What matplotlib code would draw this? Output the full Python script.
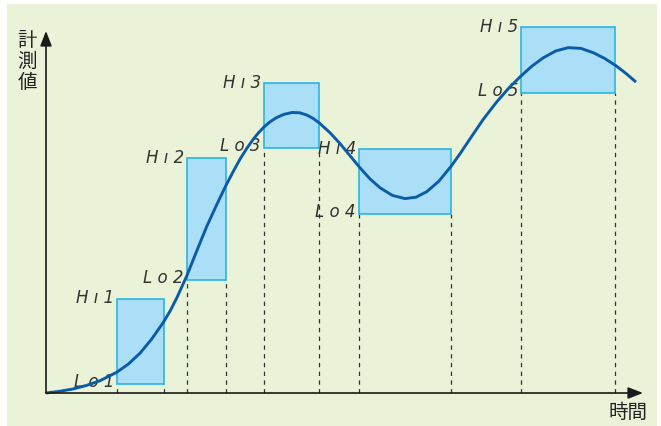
import numpy as np
import matplotlib.pyplot as plt
from matplotlib.patches import Rectangle

# measured curve (time, value)
curve_t = [0, 2.2, 4.5, 6.8, 9.05, 11.84, 13.8, 15.75, 17.7, 19.65, 20.8, 21.89, 23.57, 25.24,
           26.92, 28.59, 30.1, 31.3, 32.5, 33.6, 34.72, 35.6, 36.52, 37.6, 38.64, 39.9, 41.26,
           42.5, 43.67, 44.7, 45.78, 47.57, 49.25, 51.0, 52.6, 54.3, 55.95, 58.0, 60.13, 62.0,
           63.77, 65.8, 67.84, 69.4, 71.02, 73.2, 75.49, 77.5, 79.51, 81.4, 83.3, 85.4, 87.49,
           89.6, 91.68, 93.6, 95.48, 97.2, 98.83]
curve_v = [0, 0.45, 1.1, 2.1, 3.4, 5.72, 8.0, 11.0, 14.9, 19.5, 22.7, 26.2, 32.3, 39.2,
           46.0, 52.0, 57.2, 61.0, 64.6, 67.5, 70.1, 71.9, 73.5, 75.0, 76.1, 77.0, 77.5,
           77.4, 76.8, 75.9, 74.6, 71.9, 68.9, 65.4, 62.2, 59.1, 56.7, 54.6, 53.7, 54.1,
           55.6, 58.5, 62.6, 66.2, 70.2, 75.5, 80.4, 84.2, 87.5, 90.3, 92.6, 94.5, 95.4,
           95.2, 94.0, 92.4, 90.4, 88.2, 85.9]

# limit windows
box_t0 = [11.9, 23.6, 36.5, 52.4, 79.6]
box_t1 = [19.8, 30.2, 45.7, 67.8, 95.3]
box_lo = [2.5, 31.2, 67.7, 49.4, 82.9]
box_hi = [26.0, 64.9, 85.6, 67.4, 101.1]
hi_labels = ["H ı 1", "H ı 2", "H ı 3", "H ı 4", "H ı 5"]
lo_labels = ["L o 1", "L o 2", "L o 3", "L o 4", "L o 5"]

plt.rcParams['font.family'] = ['Noto Sans CJK JP', 'DejaVu Sans']

fig = plt.figure(figsize=(6.61, 4.27), dpi=100)
fig.add_artist(Rectangle((7/661, 0), 650/661, 422/427, transform=fig.transFigure,
                         facecolor="#eaf2d8", edgecolor="none", zorder=0))

ax = fig.add_axes([0, 0, 1, 1])
ax.set_facecolor("none")
ax.set_xlim(-46/5.97, (661-46)/5.97)
ax.set_ylim(-33/3.62, (427-33)/3.62)
ax.axis("off")

for i in range(len(box_t0)):
    w = box_t1[i] - box_t0[i]
    h = box_hi[i] - box_lo[i]
    ax.add_patch(Rectangle((box_t0[i], box_lo[i]), w, h, facecolor="#abdff7",
                           edgecolor="#2ab4e6", linewidth=1.2, zorder=2))
    for t in (box_t0[i], box_t1[i]):
        ax.plot([t, t], [0, box_lo[i]], color="#333333", lw=0.9,
                linestyle=(0, (3.5, 3.5)), zorder=1)
    ax.text(box_t0[i] - 0.5, box_hi[i] - 1.0, hi_labels[i], ha="right", va="baseline",
            fontsize=12, style="italic", color="#333333", family="DejaVu Sans")
    ax.text(box_t0[i] - 0.5, box_lo[i] - 0.5, lo_labels[i], ha="right", va="baseline",
            fontsize=12, style="italic", color="#333333", family="DejaVu Sans")

ax.plot(curve_t, curve_v, color="#0b5ca8", lw=2.1, zorder=3,
        solid_capstyle="butt", solid_joinstyle="round")

# axes with arrows
ax.annotate("", xy=(100, 0), xytext=(0, 0),
            arrowprops=dict(arrowstyle="-|>,head_length=0.9,head_width=0.35",
                            color="#1a1a1a", lw=1.2, shrinkA=0, shrinkB=0), zorder=4)
ax.annotate("", xy=(0, 100), xytext=(0, 0),
            arrowprops=dict(arrowstyle="-|>,head_length=0.9,head_width=0.35",
                            color="#1a1a1a", lw=1.2, shrinkA=0, shrinkB=0), zorder=4)

ax.text(-1.5, 100.5, "計\n測\n値", ha="right", va="top", fontsize=14,
        color="#222222", linespacing=1.0)
ax.text(97.5, -2.3, "時間", ha="center", va="top", fontsize=14, color="#222222")

plt.savefig("out.png", dpi=100)
